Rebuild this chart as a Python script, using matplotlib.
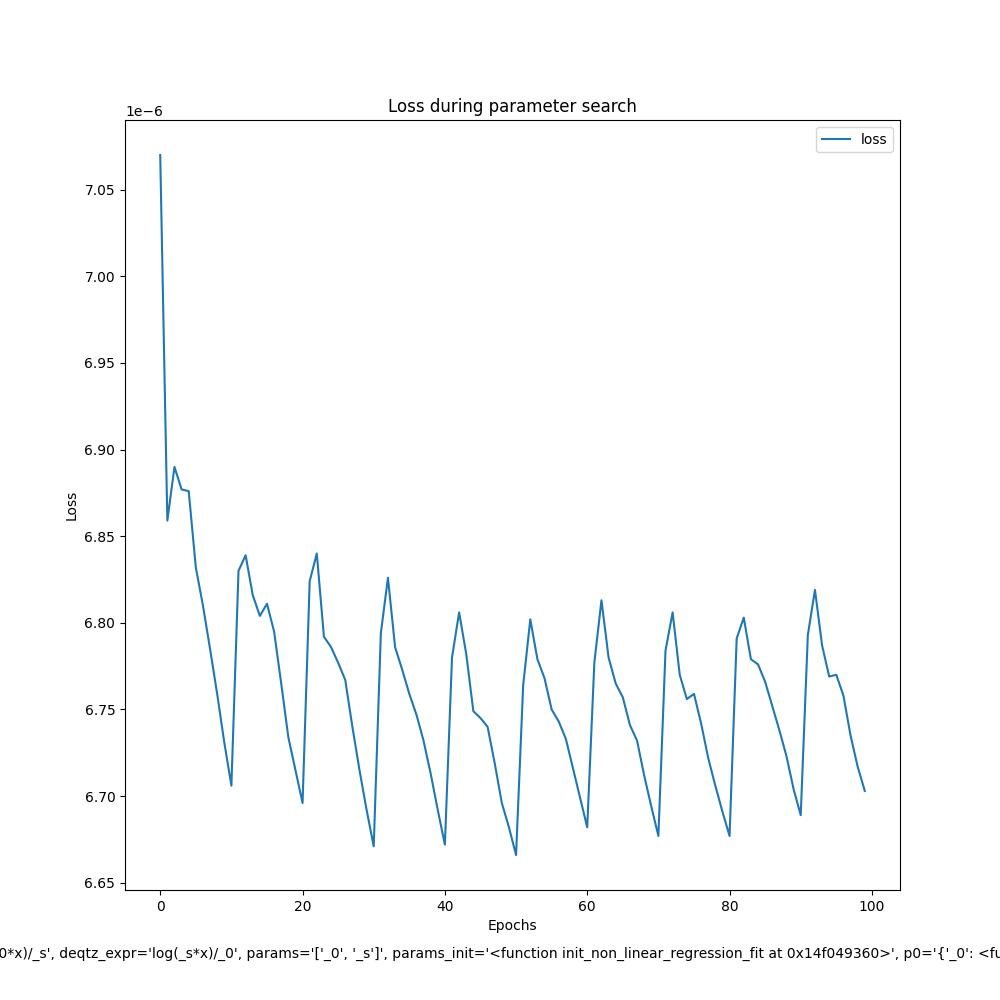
import matplotlib
matplotlib.use('Agg')
import matplotlib.pyplot as plt

# Loss values (x 1e-6) read per epoch
loss = [
    7.070, 6.859, 6.890, 6.877, 6.876, 6.832, 6.810, 6.785, 6.759, 6.731,
    6.706, 6.830, 6.839, 6.816, 6.804, 6.811, 6.795, 6.765, 6.734, 6.715,
    6.696, 6.824, 6.840, 6.792, 6.786, 6.777, 6.767, 6.740, 6.715, 6.692,
    6.671, 6.794, 6.826, 6.786, 6.773, 6.759, 6.747, 6.732, 6.713, 6.692,
    6.672, 6.780, 6.806, 6.782, 6.749, 6.745, 6.740, 6.719, 6.696, 6.682,
    6.666, 6.764, 6.802, 6.779, 6.768, 6.750, 6.743, 6.733, 6.716, 6.699,
    6.682, 6.777, 6.813, 6.780, 6.765, 6.757, 6.741, 6.732, 6.712, 6.694,
    6.677, 6.784, 6.806, 6.770, 6.756, 6.759, 6.742, 6.722, 6.706, 6.691,
    6.677, 6.791, 6.803, 6.779, 6.776, 6.766, 6.752, 6.738, 6.723, 6.704,
    6.689, 6.793, 6.819, 6.787, 6.769, 6.770, 6.758, 6.735, 6.717, 6.703,
]
loss = [v * 1e-6 for v in loss]

config_text = ("QuantizationConfig(qtz_expr='exp(_0*x)/_s', deqtz_expr='log(_s*x)/_0', "
               "params='['_0', '_s']', params_init='<function init_non_linear_regression_fit "
               "at 0x14f049360>', p0='{'_0': <function <lambda> at 0x14f0493a0>")

fig = plt.figure(figsize=(10, 10), dpi=100)
ax = fig.add_subplot(111)
ax.plot(loss, label='loss')
ax.set_title('Loss during parameter search')
ax.set_xlabel('Epochs')
ax.set_ylabel('Loss')
ax.legend()

fig.text(0.5, 0.042, config_text, ha='center')

fig.savefig('out.png')
